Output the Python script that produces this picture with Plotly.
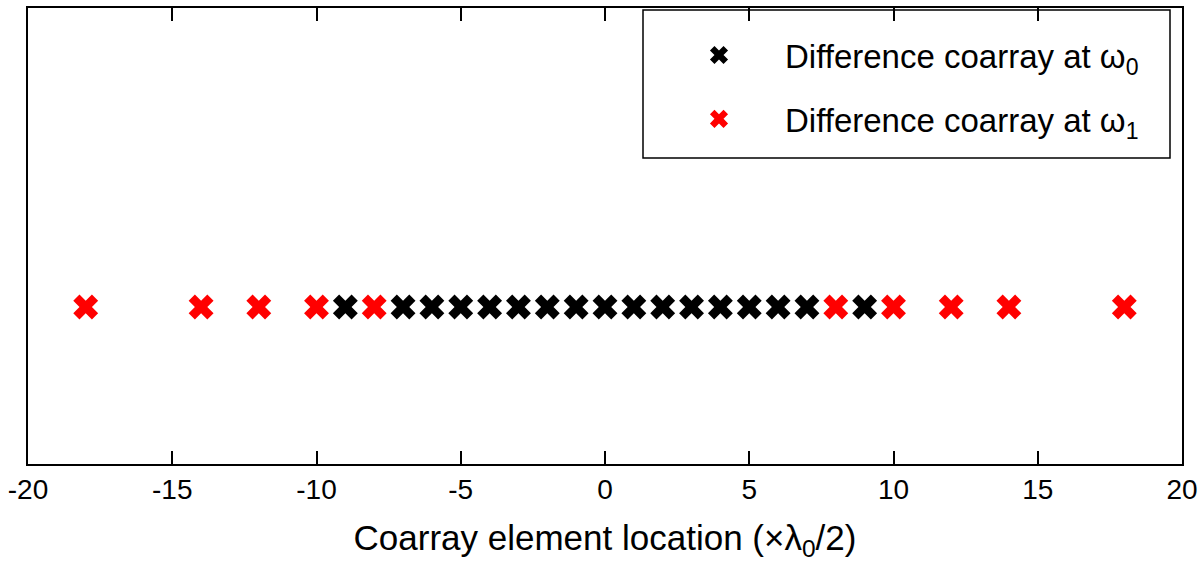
import plotly.graph_objects as go

# coarray element locations (in units of lambda_0/2)
coarray_w0 = [-9, -7, -6, -5, -4, -3, -2, -1, 0, 1, 2, 3, 4, 5, 6, 7, 9]
coarray_w1 = [-18, -14, -12, -10, -8, 8, 10, 12, 14, 18]
tick_vals = [-20, -15, -10, -5, 0, 5, 10, 15, 20]
tick_text = ["-20", "-15", "-10", "-5", "0", "5", "10", "15", "20"]

FONT = "Liberation Sans, Arial, sans-serif"


def get_trace(x, color, name, group):
    return go.Scatter(
        x=x, y=[0] * len(x),
        mode="markers",
        name=name,
        legendgroup=group,
        marker=dict(symbol="x", size=22, color=color, line=dict(width=0)),
    )


fig = go.Figure(
    data=[
        get_trace(coarray_w0, "black", "Difference coarray at ω<sub>0</sub>", "a"),
        get_trace(coarray_w1, "#ff0000", "Difference coarray at ω<sub>1</sub>", "b"),
    ]
)

# legend frame drawn as a shape so the padding matches the reference
fig.add_shape(
    type="rect", xref="paper", yref="paper",
    x0=(643 - 28) / 1154, x1=(1170 - 28) / 1154,
    y0=(464 - 158) / 456, y1=(464 - 10) / 456,
    line=dict(color="black", width=1.5), fillcolor="white", layer="below",
)

fig.update_layout(
    width=1200, height=574,
    margin=dict(l=28, r=18, t=8, b=110, autoexpand=False),
    paper_bgcolor="white",
    plot_bgcolor="white",
    font=dict(family=FONT, size=28, color="black"),
    showlegend=True,
    legend=dict(
        x=(653 - 28) / 1154, y=(464 - 27) / 456, xanchor="left", yanchor="top",
        bgcolor="rgba(0,0,0,0)", borderwidth=0,
        font=dict(size=33), itemwidth=122,
        traceorder="grouped", tracegroupgap=18,
    ),
    xaxis=dict(
        range=[-20, 20], tickvals=tick_vals, ticktext=tick_text,
        ticks="inside", ticklen=13, tickwidth=1.5, tickcolor="black",
        showline=True, linecolor="black", linewidth=1.5, mirror="ticks",
        showgrid=False, zeroline=False, automargin=False,
        title=dict(text="Coarray element location (×λ<sub>0</sub>/2)", font=dict(size=35), standoff=21),
    ),
    yaxis=dict(
        range=[-1.05, 2], showticklabels=False, ticks="",
        showline=True, linecolor="black", linewidth=1.5, mirror=True,
        showgrid=False, zeroline=False, automargin=False,
    ),
)

fig.write_html(
    "out.html",
    config={"displayModeBar": False},
    post_script="document.body.style.margin='0';",
)
